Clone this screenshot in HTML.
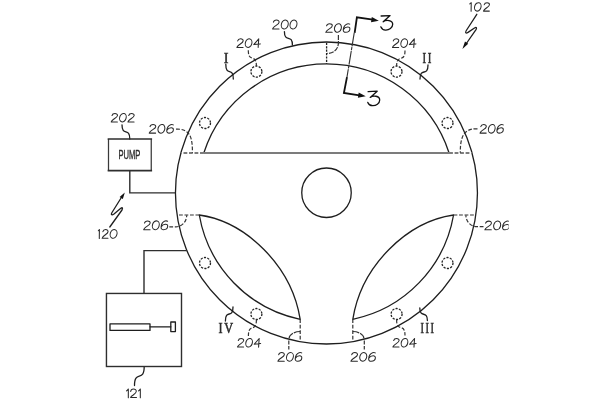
<!DOCTYPE html>
<html><head><meta charset="utf-8">
<style>
html,body{margin:0;padding:0;background:#fff;}
body{width:600px;height:400px;overflow:hidden;font-family:"Liberation Sans",sans-serif;}
svg{display:block}
.l{fill:none;stroke:#1e1e1e;stroke-width:1.3;stroke-linecap:round;stroke-linejoin:round}
.d{fill:none;stroke:#333;stroke-width:1.2;stroke-dasharray:3.8 1.7}
.b{fill:none;stroke:#2e2e2e;stroke-width:1.4;stroke-linejoin:miter}
.sp{fill:none;stroke:#7c7c7c;stroke-width:1.9}
.dc{fill:none;stroke:#222;stroke-width:1.3;stroke-dasharray:2.2 1.25}
.t{font-family:"Liberation Sans",sans-serif;font-style:italic;font-size:13.3px;fill:#2a2a2a}
.u{font-family:"Liberation Sans",sans-serif;font-size:13.3px;fill:#2a2a2a}
.r{font-family:"Liberation Serif",serif;font-size:15px;fill:#2a2a2a}
.k{fill:none;stroke:#111;stroke-width:1.8;stroke-linecap:square;stroke-linejoin:miter}
.h{fill:none;stroke:#2a2a2a;stroke-width:1.05;stroke-linecap:round;stroke-linejoin:round}
.h *{vector-effect:non-scaling-stroke}
.n3{fill:none;stroke:#111;stroke-width:1.3;stroke-linecap:round;stroke-linejoin:round}
</style></head><body>
<svg width="600" height="400" viewBox="0 0 600 400">
<defs><clipPath id="cr"><rect x="0" y="0" width="508.7" height="400"/></clipPath></defs>
<rect width="600" height="400" fill="#fff"/>
<!-- rim -->
<circle class="l" cx="326.45" cy="193" r="151"/>
<path class="l" d="M203.8 153 A129 129 0 0 1 449.1 153"/>
<path class="sp" d="M203.8 153 H449.1"/>
<path class="sp" style="stroke-dasharray:3.8 1.7" d="M203.8 153 H181 M449.1 153 H472"/>
<!-- hub -->
<circle class="l" cx="326.5" cy="192.75" r="24.75"/>
<!-- lenses -->
<path class="l" d="M199.3 215 C245.2 221.5 291.4 265 300.2 319.3 A129 129 0 0 1 199.3 215 Z"/>
<path class="l" d="M453.55 215 C407.7 221.5 361.5 265 352.8 319.3 A129 129 0 0 0 453.55 215 Z"/>
<path class="d" d="M199.3 215 H178 M453.55 215 H475.8"/>
<path class="d" d="M300.2 319.3 V340.5 M352.8 319.3 V340.5"/>
<!-- top dashed -->
<path class="d" style="stroke-dasharray:2.2 1.2;stroke-width:1.3;stroke:#222" d="M326.6 42.8 V64"/>
<!-- dashed circles 204 etc -->
<g class="dc">
<circle cx="256.4" cy="71.6" r="5.5"/><circle cx="396.5" cy="71.6" r="5.5"/>
<circle cx="205" cy="123" r="5.5"/><circle cx="447.5" cy="123" r="5.5"/>
<circle cx="205" cy="263" r="5.5"/><circle cx="447.5" cy="263" r="5.5"/>
<circle cx="256.4" cy="314" r="5.5"/><circle cx="396.6" cy="314" r="5.5"/>
</g>
<!-- 206 arcs + leaders -->
<g class="d">
<path style="stroke-dasharray:5 1.1" d="M338.4 35 V43 C338.2 49.5 333.5 53.4 327.2 53.4"/>
<path d="M176 129.2 C181 128.8 185 130 188 132.8 C191 136 192.6 142 192.4 152.8"/>
<path d="M477.5 128.8 C472 128.6 468 129.8 465 132.8 C462 136 460.2 142 460.3 152.8"/>
<path d="M169.3 226.8 H176 A10.7 11.6 0 0 0 186.7 215.2"/>
<path d="M483.5 226.6 H476.6 A10.7 11.4 0 0 1 465.9 215.2"/>
<path style="stroke-dasharray:6.5 1" d="M300.2 331.5 A11.2 7.5 0 0 0 289 339"/><path d="M288.8 340.6 V349.6"/>
<path style="stroke-dasharray:6.5 1" d="M352.8 331.5 A11.2 7.5 0 0 1 364 339"/><path d="M364.3 340.6 V349.4"/>
</g>
<!-- 204 leaders (dashed) -->
<g class="d">
<path d="M248.3 50.2 C248.3 63.8 256.4 52.6 256.4 66.2"/>
<path d="M405 50.6 C405 63.9 396.6 52.9 396.6 66.2"/>
<path d="M256.4 319.6 C256.4 333.5 248.4 322.1 248.4 336"/>
<path d="M396.6 319.6 C396.6 333.2 405 322.0 405 335.6"/>
</g>
<!-- solid leaders -->
<g class="l">
<path d="M284.4 31.6 C284.4 43.0 292.4 33.6 292.4 45"/>
<path d="M225.8 64.2 C225.8 76.8 233.3 66.4 233.3 79"/>
<path d="M428 65 C428 76.9 420 67.1 420 79"/>
<path d="M225.4 321 C225.4 309.1 233 318.9 233 307"/>
<path d="M427.4 320.5 C427.4 309.9 419.8 318.6 419.8 308"/>
<path d="M122 124.8 C122 136.7 129.8 126.9 129.8 139"/>
<path d="M144.2 366.6 C144.2 382.7 134.5 369.8 134.5 385.5"/>
</g>
<!-- pump box -->
<path class="b" style="stroke-width:1.25;stroke:#3a3a3a" d="M108.5 139 V170.6 M151.25 139 V170.6"/><path class="b" style="stroke-width:1.7;stroke-linecap:square" d="M108.5 139 H151.25 M108.5 170.6 H151.25"/>
<path class="b" d="M129.8 170.6 V192.9 H175"/>
<!-- box 121 -->
<rect class="b" x="106.45" y="293.45" width="75.05" height="73.05"/>
<path class="b" d="M144 293.45 V250.6 H186.8"/>
<rect class="l" x="110" y="323.8" width="40" height="6.6"/>
<path class="l" d="M150 326.8 H170.8"/>
<rect class="l" x="170.8" y="322" width="4.6" height="9.6"/>
<!-- arrow 120 -->
<path class="l" d="M122 196.5 L112 212.5 C110.5 215 112 215.3 114 214 L120.5 208.5 C122.5 207 123 208 122 210 L109.8 227"/>
<path d="M124.8 192.4 L122.85 198.9 L119.65 196.9 Z" fill="#111"/>
<!-- arrow 102 -->
<path class="l" d="M476.8 14.3 L466.3 30.5 C464.8 33 466 33.6 468 32.4 L474.5 28 C476.5 26.8 477 27.8 476 29.6 L466 44"/>
<path d="M462.4 48.9 L465 41.6 L468.2 43.8 Z" fill="#111"/>
<!-- section 3-3 -->
<path class="k" d="M354.8 32 L356.9 17.3 L372 19.4"/>
<path d="M378.8 20.7 L371 22.3 L371.8 17 Z" fill="#111"/>
<path class="l" style="stroke-width:1.15;stroke:#333;stroke-dasharray:13 1.5 2.5 1.5" d="M354.2 33 L347 77"/>
<path class="k" d="M346.8 78 L343.9 93 L358.5 95.2"/>
<path d="M365.7 96.3 L357.9 97.8 L358.7 92.5 Z" fill="#111"/>
<path class="n3" d="M381.1 16 L390.1 15.6 L383.2 21.8 C386 19.6 392.7 20 392.7 24.3 C392.7 27.9 389 30.2 385.6 30.1 C383.3 30 381.5 28.6 380.8 26.8"/>
<path class="n3" d="M368.1 91.6 L377.2 91.2 L370.2 97.4 C373 95.2 379.7 95.7 379.7 100 C379.7 103.5 376 105.8 372.6 105.7 C370.3 105.6 368.5 104.2 367.8 102.4"/>
<!-- TEXT-BEGIN -->
<g role="img" aria-label="200"><g class="h" transform="translate(272.10 29.50) scale(1.016 1.042)"><g transform="translate(0.00 0)"><path d="M1.3 -7.0 C1.6 -8.4 2.9 -9.1 4.3 -9.1 C5.9 -9.1 7.0 -8.3 6.9 -7.0 C6.8 -5.4 4.6 -4.4 2.9 -3.2 C1.6 -2.3 0.8 -1.4 0.5 -0.5 L6.8 -0.5"/></g><g transform="translate(8.50 0)"><ellipse cx="3.95" cy="-4.8" rx="3.3" ry="4.4" transform="rotate(18 3.95 -4.8)"/></g><g transform="translate(17.10 0)"><ellipse cx="3.95" cy="-4.8" rx="3.3" ry="4.4" transform="rotate(18 3.95 -4.8)"/></g></g></g>
<g role="img" aria-label="204"><g class="h" transform="translate(236.40 47.90) scale(0.980 1.000)"><g transform="translate(0.00 0)"><path d="M1.3 -7.0 C1.6 -8.4 2.9 -9.1 4.3 -9.1 C5.9 -9.1 7.0 -8.3 6.9 -7.0 C6.8 -5.4 4.6 -4.4 2.9 -3.2 C1.6 -2.3 0.8 -1.4 0.5 -0.5 L6.8 -0.5"/></g><g transform="translate(8.50 0)"><ellipse cx="3.95" cy="-4.8" rx="3.3" ry="4.4" transform="rotate(18 3.95 -4.8)"/></g><g transform="translate(17.10 0)"><path d="M5.7 -9.1 L0.6 -3.3 L7.3 -4.0 M5.7 -9.1 L5.1 -0.4"/></g></g></g>
<g role="img" aria-label="204"><g class="h" transform="translate(392.00 47.90) scale(0.980 1.000)"><g transform="translate(0.00 0)"><path d="M1.3 -7.0 C1.6 -8.4 2.9 -9.1 4.3 -9.1 C5.9 -9.1 7.0 -8.3 6.9 -7.0 C6.8 -5.4 4.6 -4.4 2.9 -3.2 C1.6 -2.3 0.8 -1.4 0.5 -0.5 L6.8 -0.5"/></g><g transform="translate(8.50 0)"><ellipse cx="3.95" cy="-4.8" rx="3.3" ry="4.4" transform="rotate(18 3.95 -4.8)"/></g><g transform="translate(17.10 0)"><path d="M5.7 -9.1 L0.6 -3.3 L7.3 -4.0 M5.7 -9.1 L5.1 -0.4"/></g></g></g>
<g role="img" aria-label="206"><g class="h" transform="translate(325.25 32.80) scale(1.018 1.000)"><g transform="translate(0.00 0)"><path d="M1.3 -7.0 C1.6 -8.4 2.9 -9.1 4.3 -9.1 C5.9 -9.1 7.0 -8.3 6.9 -7.0 C6.8 -5.4 4.6 -4.4 2.9 -3.2 C1.6 -2.3 0.8 -1.4 0.5 -0.5 L6.8 -0.5"/></g><g transform="translate(8.50 0)"><ellipse cx="3.95" cy="-4.8" rx="3.3" ry="4.4" transform="rotate(18 3.95 -4.8)"/></g><g transform="translate(17.10 0)"><path d="M7.0 -8.7 C6.2 -9.2 5.2 -9.2 4.4 -8.9 C2.4 -8.1 0.8 -5.4 0.6 -3.2 C0.4 -1.4 1.4 -0.5 3.0 -0.5 C5.2 -0.5 7.0 -2.0 7.1 -3.8 C7.2 -5.2 6.2 -5.9 4.9 -5.8 C3.2 -5.7 1.6 -4.8 0.8 -3.4"/></g></g></g>
<g role="img" aria-label="202"><g class="h" transform="translate(110.75 122.40) scale(0.976 0.979)"><g transform="translate(0.00 0)"><path d="M1.3 -7.0 C1.6 -8.4 2.9 -9.1 4.3 -9.1 C5.9 -9.1 7.0 -8.3 6.9 -7.0 C6.8 -5.4 4.6 -4.4 2.9 -3.2 C1.6 -2.3 0.8 -1.4 0.5 -0.5 L6.8 -0.5"/></g><g transform="translate(8.50 0)"><ellipse cx="3.95" cy="-4.8" rx="3.3" ry="4.4" transform="rotate(18 3.95 -4.8)"/></g><g transform="translate(17.10 0)"><path d="M1.3 -7.0 C1.6 -8.4 2.9 -9.1 4.3 -9.1 C5.9 -9.1 7.0 -8.3 6.9 -7.0 C6.8 -5.4 4.6 -4.4 2.9 -3.2 C1.6 -2.3 0.8 -1.4 0.5 -0.5 L6.8 -0.5"/></g></g></g>
<g role="img" aria-label="206"><g class="h" transform="translate(148.70 133.60) scale(1.020 1.000)"><g transform="translate(0.00 0)"><path d="M1.3 -7.0 C1.6 -8.4 2.9 -9.1 4.3 -9.1 C5.9 -9.1 7.0 -8.3 6.9 -7.0 C6.8 -5.4 4.6 -4.4 2.9 -3.2 C1.6 -2.3 0.8 -1.4 0.5 -0.5 L6.8 -0.5"/></g><g transform="translate(8.50 0)"><ellipse cx="3.95" cy="-4.8" rx="3.3" ry="4.4" transform="rotate(18 3.95 -4.8)"/></g><g transform="translate(17.10 0)"><path d="M7.0 -8.7 C6.2 -9.2 5.2 -9.2 4.4 -8.9 C2.4 -8.1 0.8 -5.4 0.6 -3.2 C0.4 -1.4 1.4 -0.5 3.0 -0.5 C5.2 -0.5 7.0 -2.0 7.1 -3.8 C7.2 -5.2 6.2 -5.9 4.9 -5.8 C3.2 -5.7 1.6 -4.8 0.8 -3.4"/></g></g></g>
<g role="img" aria-label="206"><g class="h" transform="translate(479.50 133.60) scale(0.984 1.000)"><g transform="translate(0.00 0)"><path d="M1.3 -7.0 C1.6 -8.4 2.9 -9.1 4.3 -9.1 C5.9 -9.1 7.0 -8.3 6.9 -7.0 C6.8 -5.4 4.6 -4.4 2.9 -3.2 C1.6 -2.3 0.8 -1.4 0.5 -0.5 L6.8 -0.5"/></g><g transform="translate(8.50 0)"><ellipse cx="3.95" cy="-4.8" rx="3.3" ry="4.4" transform="rotate(18 3.95 -4.8)"/></g><g transform="translate(17.10 0)"><path d="M7.0 -8.7 C6.2 -9.2 5.2 -9.2 4.4 -8.9 C2.4 -8.1 0.8 -5.4 0.6 -3.2 C0.4 -1.4 1.4 -0.5 3.0 -0.5 C5.2 -0.5 7.0 -2.0 7.1 -3.8 C7.2 -5.2 6.2 -5.9 4.9 -5.8 C3.2 -5.7 1.6 -4.8 0.8 -3.4"/></g></g></g>
<g role="img" aria-label="206"><g class="h" transform="translate(143.20 230.20) scale(1.012 1.021)"><g transform="translate(0.00 0)"><path d="M1.3 -7.0 C1.6 -8.4 2.9 -9.1 4.3 -9.1 C5.9 -9.1 7.0 -8.3 6.9 -7.0 C6.8 -5.4 4.6 -4.4 2.9 -3.2 C1.6 -2.3 0.8 -1.4 0.5 -0.5 L6.8 -0.5"/></g><g transform="translate(8.50 0)"><ellipse cx="3.95" cy="-4.8" rx="3.3" ry="4.4" transform="rotate(18 3.95 -4.8)"/></g><g transform="translate(17.10 0)"><path d="M7.0 -8.7 C6.2 -9.2 5.2 -9.2 4.4 -8.9 C2.4 -8.1 0.8 -5.4 0.6 -3.2 C0.4 -1.4 1.4 -0.5 3.0 -0.5 C5.2 -0.5 7.0 -2.0 7.1 -3.8 C7.2 -5.2 6.2 -5.9 4.9 -5.8 C3.2 -5.7 1.6 -4.8 0.8 -3.4"/></g></g></g>
<g clip-path="url(#cr)" role="img" aria-label="206"><g class="h" transform="translate(484.30 230.30) scale(1.032 1.010)"><g transform="translate(0.00 0)"><path d="M1.3 -7.0 C1.6 -8.4 2.9 -9.1 4.3 -9.1 C5.9 -9.1 7.0 -8.3 6.9 -7.0 C6.8 -5.4 4.6 -4.4 2.9 -3.2 C1.6 -2.3 0.8 -1.4 0.5 -0.5 L6.8 -0.5"/></g><g transform="translate(8.50 0)"><ellipse cx="3.95" cy="-4.8" rx="3.3" ry="4.4" transform="rotate(18 3.95 -4.8)"/></g><g transform="translate(17.10 0)"><path d="M7.0 -8.7 C6.2 -9.2 5.2 -9.2 4.4 -8.9 C2.4 -8.1 0.8 -5.4 0.6 -3.2 C0.4 -1.4 1.4 -0.5 3.0 -0.5 C5.2 -0.5 7.0 -2.0 7.1 -3.8 C7.2 -5.2 6.2 -5.9 4.9 -5.8 C3.2 -5.7 1.6 -4.8 0.8 -3.4"/></g></g></g>
<g role="img" aria-label="206"><g class="h" transform="translate(277.40 361.70) scale(1.008 1.010)"><g transform="translate(0.00 0)"><path d="M1.3 -7.0 C1.6 -8.4 2.9 -9.1 4.3 -9.1 C5.9 -9.1 7.0 -8.3 6.9 -7.0 C6.8 -5.4 4.6 -4.4 2.9 -3.2 C1.6 -2.3 0.8 -1.4 0.5 -0.5 L6.8 -0.5"/></g><g transform="translate(8.50 0)"><ellipse cx="3.95" cy="-4.8" rx="3.3" ry="4.4" transform="rotate(18 3.95 -4.8)"/></g><g transform="translate(17.10 0)"><path d="M7.0 -8.7 C6.2 -9.2 5.2 -9.2 4.4 -8.9 C2.4 -8.1 0.8 -5.4 0.6 -3.2 C0.4 -1.4 1.4 -0.5 3.0 -0.5 C5.2 -0.5 7.0 -2.0 7.1 -3.8 C7.2 -5.2 6.2 -5.9 4.9 -5.8 C3.2 -5.7 1.6 -4.8 0.8 -3.4"/></g></g></g>
<g role="img" aria-label="206"><g class="h" transform="translate(350.40 361.70) scale(1.032 1.010)"><g transform="translate(0.00 0)"><path d="M1.3 -7.0 C1.6 -8.4 2.9 -9.1 4.3 -9.1 C5.9 -9.1 7.0 -8.3 6.9 -7.0 C6.8 -5.4 4.6 -4.4 2.9 -3.2 C1.6 -2.3 0.8 -1.4 0.5 -0.5 L6.8 -0.5"/></g><g transform="translate(8.50 0)"><ellipse cx="3.95" cy="-4.8" rx="3.3" ry="4.4" transform="rotate(18 3.95 -4.8)"/></g><g transform="translate(17.10 0)"><path d="M7.0 -8.7 C6.2 -9.2 5.2 -9.2 4.4 -8.9 C2.4 -8.1 0.8 -5.4 0.6 -3.2 C0.4 -1.4 1.4 -0.5 3.0 -0.5 C5.2 -0.5 7.0 -2.0 7.1 -3.8 C7.2 -5.2 6.2 -5.9 4.9 -5.8 C3.2 -5.7 1.6 -4.8 0.8 -3.4"/></g></g></g>
<g role="img" aria-label="204"><g class="h" transform="translate(237.00 347.50) scale(0.972 0.990)"><g transform="translate(0.00 0)"><path d="M1.3 -7.0 C1.6 -8.4 2.9 -9.1 4.3 -9.1 C5.9 -9.1 7.0 -8.3 6.9 -7.0 C6.8 -5.4 4.6 -4.4 2.9 -3.2 C1.6 -2.3 0.8 -1.4 0.5 -0.5 L6.8 -0.5"/></g><g transform="translate(8.50 0)"><ellipse cx="3.95" cy="-4.8" rx="3.3" ry="4.4" transform="rotate(18 3.95 -4.8)"/></g><g transform="translate(17.10 0)"><path d="M5.7 -9.1 L0.6 -3.3 L7.3 -4.0 M5.7 -9.1 L5.1 -0.4"/></g></g></g>
<g role="img" aria-label="204"><g class="h" transform="translate(392.40 347.50) scale(0.972 0.990)"><g transform="translate(0.00 0)"><path d="M1.3 -7.0 C1.6 -8.4 2.9 -9.1 4.3 -9.1 C5.9 -9.1 7.0 -8.3 6.9 -7.0 C6.8 -5.4 4.6 -4.4 2.9 -3.2 C1.6 -2.3 0.8 -1.4 0.5 -0.5 L6.8 -0.5"/></g><g transform="translate(8.50 0)"><ellipse cx="3.95" cy="-4.8" rx="3.3" ry="4.4" transform="rotate(18 3.95 -4.8)"/></g><g transform="translate(17.10 0)"><path d="M5.7 -9.1 L0.6 -3.3 L7.3 -4.0 M5.7 -9.1 L5.1 -0.4"/></g></g></g>
<g role="img" aria-label="120"><g class="h"><g transform="translate(97.90 238.80) scale(0.826 1.021)"><path d="M0.5 -7.9 L1.8 -9.1 L1.7 -0.4"/></g><g transform="translate(101.70 238.80) scale(0.920 1.021)"><path d="M1.3 -7.0 C1.6 -8.4 2.9 -9.1 4.3 -9.1 C5.9 -9.1 7.0 -8.3 6.9 -7.0 C6.8 -5.4 4.6 -4.4 2.9 -3.2 C1.6 -2.3 0.8 -1.4 0.5 -0.5 L6.8 -0.5"/></g><g transform="translate(109.60 238.80) scale(1.013 1.021)"><ellipse cx="3.95" cy="-4.8" rx="3.3" ry="4.4" transform="rotate(18 3.95 -4.8)"/></g></g></g>
<g role="img" aria-label="102"><g class="h"><g transform="translate(469.20 11.60) scale(1.130 0.979)"><path d="M0.5 -7.9 L1.8 -9.1 L1.7 -0.4"/></g><g transform="translate(474.00 11.60) scale(0.962 0.979)"><ellipse cx="3.95" cy="-4.8" rx="3.3" ry="4.4" transform="rotate(18 3.95 -4.8)"/></g><g transform="translate(483.00 11.60) scale(0.933 0.979)"><path d="M1.3 -7.0 C1.6 -8.4 2.9 -9.1 4.3 -9.1 C5.9 -9.1 7.0 -8.3 6.9 -7.0 C6.8 -5.4 4.6 -4.4 2.9 -3.2 C1.6 -2.3 0.8 -1.4 0.5 -0.5 L6.8 -0.5"/></g></g></g>
<g role="img" aria-label="121"><g class="h"><g transform="translate(126.00 398.00) scale(0.967 0.990)"><path d="M0.5 -7.2 C1.4 -7.7 2.1 -8.3 2.4 -9.1 L2.4 -0.2"/></g><g transform="translate(130.00 398.00) scale(1.000 0.990)"><path d="M0.7 -6.6 C0.8 -8.3 2.0 -9.1 3.5 -9.1 C5.1 -9.1 6.3 -8.2 6.3 -6.8 C6.3 -5.2 4.8 -4.2 3.2 -3.0 C1.8 -2.0 0.8 -1.2 0.6 -0.6 L6.5 -0.6"/></g><g transform="translate(138.00 398.00) scale(0.967 0.990)"><path d="M0.5 -7.2 C1.4 -7.7 2.1 -8.3 2.4 -9.1 L2.4 -0.2"/></g></g></g>
<g style="filter:grayscale(1)"><text transform="translate(118.39 158.56) scale(0.761 1.350)" style="font-family:'Liberation Sans';font-style:normal;font-size:10px" fill="#2a2a2a" stroke="#2a2a2a" stroke-width="0.28">PUMP</text></g>
<g style="filter:grayscale(1)"><text transform="translate(223.63 63.00) scale(1.423 1.508)" style="font-family:'Liberation Serif';font-style:normal;font-size:10px;letter-spacing:1.4px" fill="#2a2a2a" stroke="#2a2a2a" stroke-width="0.34">I</text></g>
<g style="filter:grayscale(1)"><text transform="translate(422.56 63.00) scale(1.096 1.538)" style="font-family:'Liberation Serif';font-style:normal;font-size:10px;letter-spacing:1.4px" fill="#2a2a2a" stroke="#2a2a2a" stroke-width="0.34">II</text></g>
<g style="filter:grayscale(1)"><text transform="translate(420.58 333.00) scale(1.050 1.446)" style="font-family:'Liberation Serif';font-style:normal;font-size:10px;letter-spacing:1.4px" fill="#2a2a2a" stroke="#2a2a2a" stroke-width="0.34">III</text></g>
<g style="filter:grayscale(1)"><text transform="translate(218.41 332.71) scale(1.228 1.463)" style="font-family:'Liberation Serif';font-style:normal;font-size:10px;letter-spacing:1.4px" fill="#2a2a2a" stroke="#2a2a2a" stroke-width="0.34">IV</text></g>
<!-- TEXT-END -->
</svg>
</body></html>
